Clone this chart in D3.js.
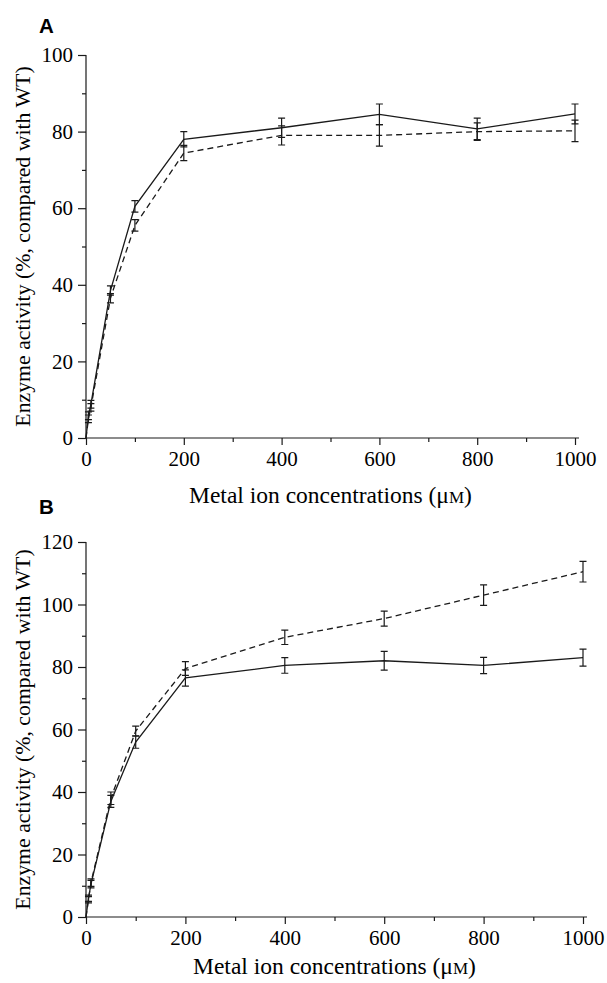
<!DOCTYPE html>
<html><head><meta charset="utf-8">
<script src="https://cdn.jsdelivr.net/npm/d3@7"></script>
<style>body{margin:0;background:#fff}svg{display:block}</style>
</head><body>
<svg id="c" width="607" height="983"></svg>
<script>
const conc = [0, 5, 10, 50, 100, 200, 400, 600, 800, 1000];
const xMajorTicks = [0, 200, 400, 600, 800, 1000];
const xMinorTicks = [100, 300, 500, 700, 900];

const aSolid    = [0, 5.8, 8.8, 38.5, 60.5, 78.0, 81.0, 84.5, 80.7, 84.6];
const aSolidErr = [0, 1.0, 1.0, 1.2, 1.5, 2.0, 2.5, 2.7, 2.8, 2.6];
const aDash     = [0, 5.0, 8.0, 36.5, 55.5, 74.4, 79.0, 79.0, 80.0, 80.2];
const aDashErr  = [0, 1.0, 1.0, 1.2, 1.5, 2.0, 2.5, 2.8, 2.3, 2.8];
const aYTicks   = [0, 20, 40, 60, 80, 100];

const bSolid    = [0, 6.0, 10.5, 37.0, 56.0, 76.5, 80.5, 82.0, 80.5, 83.0];
const bSolidErr = [0, 1.0, 1.2, 1.9, 2.0, 2.6, 2.5, 3.0, 2.6, 2.7];
const bDash     = [0, 5.5, 11.0, 38.0, 59.5, 79.5, 89.5, 95.5, 103.0, 110.5];
const bDashErr  = [0, 1.0, 1.2, 2.0, 1.6, 2.2, 2.3, 2.4, 3.3, 3.3];
const bYTicks   = [0, 20, 40, 60, 80, 100, 120];

const xTitle = "Metal ion concentrations (μ";
const yTitle = "Enzyme activity (%, compared with WT)";

const svg = d3.select("#c");
const serif = "'Liberation Serif','Times New Roman',serif";
const ink = "#1a1a1a";

function panel(o) {
  const x = d3.scaleLinear().domain([0, 1000]).range([o.x0, o.x1]);
  const y = d3.scaleLinear().domain([0, o.yMax]).range([o.y0, o.y1]);
  const g = svg.append("g");

  // panel letter
  g.append("text").attr("x", 39).attr("y", o.letterY)
    .attr("font-family", "'Liberation Sans',Arial,sans-serif").attr("font-weight", "bold")
    .attr("font-size", 20.5).attr("fill", "#000").text(o.letter);

  // x axis
  const xa = g.append("g").attr("transform", `translate(0,${o.y0})`)
    .call(d3.axisBottom(x).tickValues(xMajorTicks).tickSize(7).tickPadding(6).tickFormat(d3.format("d")));
  xa.select(".domain").attr("d", `M${o.x0},0H${o.x1 + 4}`);
  g.append("g").attr("transform", `translate(0,${o.y0})`)
    .call(d3.axisBottom(x).tickValues(xMinorTicks).tickSize(4).tickFormat(""))
    .select(".domain").remove();

  // y axis
  const ya = g.append("g").attr("transform", `translate(${o.x0},0)`)
    .call(d3.axisLeft(y).tickValues(o.yTicks).tickSize(8).tickPadding(5).tickFormat(d3.format("d")));
  ya.select(".domain").attr("d", `M0,${o.y1}V${o.y0}`);
  const minor = d3.range(10, o.yMax, 20);
  g.append("g").attr("transform", `translate(${o.x0},0)`)
    .call(d3.axisLeft(y).tickValues(minor).tickSize(4).tickFormat(""))
    .select(".domain").remove();

  g.selectAll(".tick text").attr("font-family", serif).attr("font-size", 21).attr("fill", "#000");
  g.selectAll(".domain, .tick line").attr("stroke", ink).attr("stroke-width", 1.2);

  // titles
  const xt = g.append("text").attr("x", (o.x0 + o.x1) / 2).attr("y", o.xTitleY)
    .attr("text-anchor", "middle").attr("font-family", serif).attr("font-size", 23.5).attr("fill", "#000");
  xt.append("tspan").text(xTitle);
  xt.append("tspan").attr("font-size", 17).text("M");
  xt.append("tspan").text(")");
  g.append("text").attr("transform", `translate(30,${(o.y0 + o.y1) / 2}) rotate(-90)`)
    .attr("text-anchor", "middle").attr("font-family", serif).attr("font-size", 21.8).attr("fill", "#000")
    .text(yTitle);

  // series
  const series = [
    {v: o.solid, e: o.solidErr, dash: null},
    {v: o.dash, e: o.dashErr, dash: "6,4"}
  ];
  const line = d3.line().x((d, i) => x(conc[i])).y(d => y(d));
  series.forEach(s => {
    g.append("path").datum(s.v).attr("d", line).attr("fill", "none")
      .attr("stroke", ink).attr("stroke-width", 1.3)
      .attr("stroke-dasharray", s.dash);
    const idx = d3.range(conc.length).filter(i => s.e[i] > 0);
    const eb = g.append("g").attr("stroke", ink).attr("stroke-width", 1.2).attr("fill", "none");
    eb.selectAll("path").data(idx).join("path")
      .attr("d", i => {
        const cx = x(conc[i]), t = y(s.v[i] + s.e[i]), b = y(s.v[i] - s.e[i]);
        return `M${cx},${t}V${b}M${cx - 3.5},${t}H${cx + 3.5}M${cx - 3.5},${b}H${cx + 3.5}`;
      });
  });
}

panel({letter: "A", letterY: 33, x0: 86, x1: 575, y0: 438, y1: 55, yMax: 100, yTicks: aYTicks,
  solid: aSolid, solidErr: aSolidErr, dash: aDash, dashErr: aDashErr, xTitleY: 503});
panel({letter: "B", letterY: 514, x0: 86, x1: 583, y0: 917, y1: 542, yMax: 120, yTicks: bYTicks,
  solid: bSolid, solidErr: bSolidErr, dash: bDash, dashErr: bDashErr, xTitleY: 974});
</script>
</body></html>
